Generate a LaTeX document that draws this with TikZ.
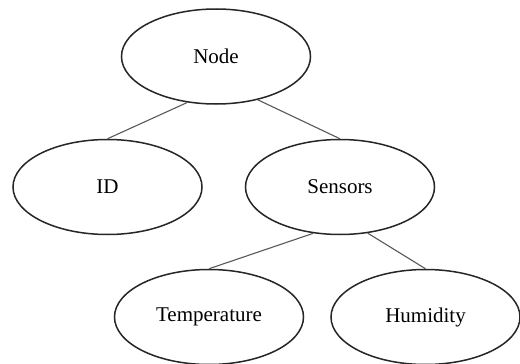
\documentclass[tikz,border=0pt]{standalone}
\usepackage{fontspec}
\setmainfont{Liberation Serif}
\usetikzlibrary{shapes.geometric}
\begin{document}
\begin{tikzpicture}[x=1pt,y=1pt,
  ell/.style={ellipse,draw=black!85,line width=1.5pt,minimum width=189pt,minimum height=95pt,inner sep=0pt,font=\fontsize{21}{24}\selectfont},
  conn/.style={draw=black!65,line width=1.1pt}]
\useasboundingbox[fill=white] (0,0) rectangle (520,-364);
\node[ell] (node) at (216,-56.5) {Node};
\node[ell] (id) at (107.5,-187) {ID};
\node[ell] (sensors) at (340,-187) {Sensors};
\node[ell] (temp) at (209,-317) {Temperature};
\node[ell] (hum) at (425.5,-317) {Humidity};
\draw[conn] (node.238) -- (id.north);
\draw[conn] (node.314) -- (sensors.north);
\draw[conn] (sensors.240) -- (temp.north);
\draw[conn] (sensors.301) -- (hum.north);
\end{tikzpicture}
\end{document}
